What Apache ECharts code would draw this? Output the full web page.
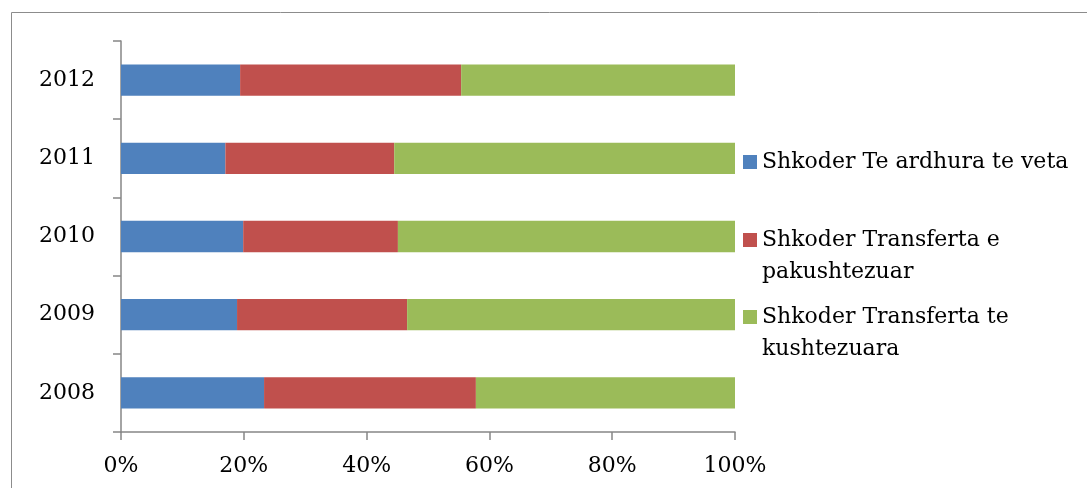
<!DOCTYPE html>
<html>
<head>
<meta charset="utf-8">
<script src="https://cdn.jsdelivr.net/npm/echarts@6/dist/echarts.min.js"></script>
<style>
html,body{margin:0;padding:0;background:#fff;}
#c{width:1087px;height:488px;}
</style>
</head>
<body>
<div id="c"></div>
<script>
const categories = ['2008', '2009', '2010', '2011', '2012'];
const seriesNames = ['Shkoder Te ardhura te veta', 'Shkoder Transferta e pakushtezuar', 'Shkoder Transferta te kushtezuara'];
const ownRevenue = [23.3, 18.9, 19.9, 17.0, 19.4];
const unconditional = [34.5, 27.7, 25.2, 27.5, 36.0];
const conditional = [42.2, 53.4, 54.9, 55.5, 44.6];
const xTicks = [0, 20, 40, 60, 80, 100];
const legendLines = {
  'Shkoder Te ardhura te veta': ['Shkoder Te ardhura te veta'],
  'Shkoder Transferta e pakushtezuar': ['Shkoder Transferta e', 'pakushtezuar'],
  'Shkoder Transferta te kushtezuara': ['Shkoder Transferta te', 'kushtezuara']
};

const colors = ['#4F81BD', '#C0504D', '#9BBB59'];
const font = 'DejaVu Serif';
const axisColor = '#868686';

function legendFor(name, top) {
  return {
    data: [name],
    left: 743,
    top: top,
    padding: 0,
    orient: 'vertical',
    icon: 'rect',
    itemWidth: 14,
    itemHeight: 14,
    selectedMode: false,
    formatter: n => {
      const lines = legendLines[n];
      // keep the first line level with the marker
      return lines.length > 1 ? '\n' + lines.join('\n') : lines[0];
    },
    textStyle: {
      fontFamily: font,
      fontSize: 22,
      color: '#000',
      lineHeight: 32
    }
  };
}

const chart = echarts.init(document.getElementById('c'));
chart.setOption({
  animation: false,
  color: colors,
  graphic: [{
    type: 'rect',
    shape: { x: 11.5, y: 12.5, width: 2000, height: 2000 },
    style: { fill: 'none', stroke: '#8c8c8c', lineWidth: 1 },
    silent: true,
    z: -1
  }],
  legend: [
    legendFor(seriesNames[0], 146),
    legendFor(seriesNames[1], 192),
    legendFor(seriesNames[2], 269)
  ],
  grid: { left: 121, right: 352, top: 41, bottom: 56, containLabel: false },
  xAxis: {
    type: 'value',
    min: xTicks[0],
    max: xTicks[xTicks.length - 1],
    interval: xTicks[1] - xTicks[0],
    axisLine: { show: true, lineStyle: { color: axisColor, width: 1.5 } },
    axisTick: { show: true, length: 8, lineStyle: { color: axisColor, width: 1.5 } },
    splitLine: { show: false },
    axisLabel: {
      formatter: '{value}%',
      fontFamily: font,
      fontSize: 22,
      color: '#000',
      margin: 23
    }
  },
  yAxis: {
    type: 'category',
    data: categories,
    axisLine: { show: true, lineStyle: { color: axisColor, width: 1.5 } },
    axisTick: { show: true, length: 8, lineStyle: { color: axisColor, width: 1.5 } },
    axisLabel: {
      fontFamily: font,
      fontSize: 22,
      color: '#000',
      margin: 26
    }
  },
  series: [
    { name: seriesNames[0], type: 'bar', stack: 'total', barWidth: '40%', data: ownRevenue },
    { name: seriesNames[1], type: 'bar', stack: 'total', barWidth: '40%', data: unconditional },
    { name: seriesNames[2], type: 'bar', stack: 'total', barWidth: '40%', data: conditional }
  ]
});
</script>
</body>
</html>
